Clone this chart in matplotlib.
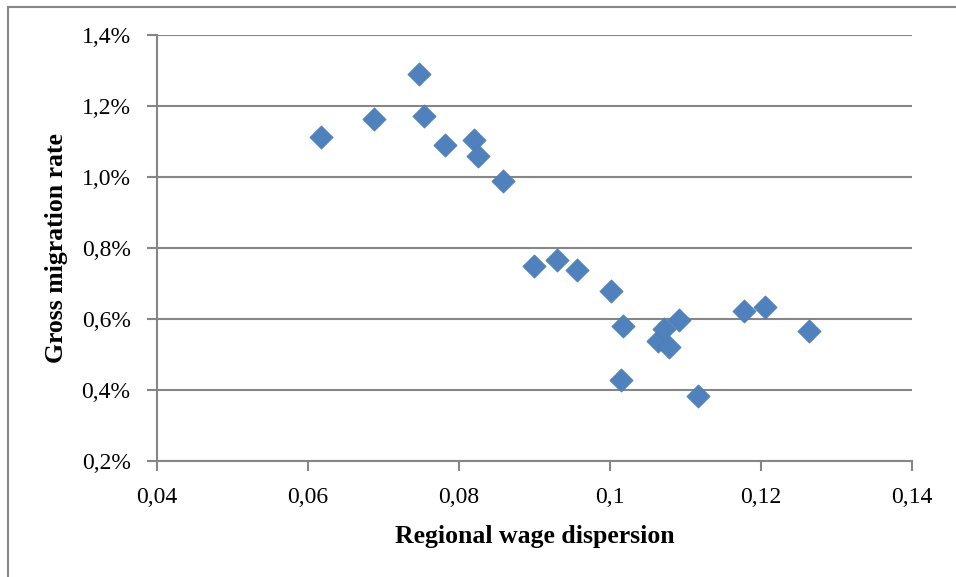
import matplotlib
matplotlib.use("Agg")
import matplotlib.pyplot as plt
from matplotlib.patches import Rectangle
from matplotlib.ticker import FuncFormatter

# Regional wage dispersion vs gross migration rate (%)
wage_disp = [0.0617, 0.0688, 0.0747, 0.0754, 0.0782, 0.0820, 0.0825, 0.0858,
             0.0899, 0.0930, 0.0956, 0.1001, 0.1017, 0.1014, 0.1064, 0.1071,
             0.1078, 0.1092, 0.1117, 0.1178, 0.1205, 0.1264]
migration = [1.114, 1.164, 1.291, 1.173, 1.089, 1.103, 1.058, 0.988,
             0.750, 0.766, 0.738, 0.680, 0.581, 0.427, 0.537, 0.573,
             0.520, 0.598, 0.382, 0.623, 0.635, 0.565]

x_ticks = [0.04, 0.06, 0.08, 0.1, 0.12, 0.14]
y_ticks = [0.2, 0.4, 0.6, 0.8, 1.0, 1.2, 1.4]

plt.rcParams["font.family"] = ["Liberation Serif", "DejaVu Serif"]
grey = "#868686"

fig = plt.figure(figsize=(9.56, 5.77), dpi=100)
ax = fig.add_axes([157/956, 1 - 461/577, (912 - 157)/956, (461 - 35)/577])

# outer chart frame (only left/top visible in the crop)
fig.patches.append(Rectangle((8/956, -0.1), 1.2, 1 - 7/577 + 0.1,
                             transform=fig.transFigure, fill=False,
                             edgecolor=grey, linewidth=1.5))

ax.scatter(wage_disp, migration, marker="D", s=140, color="#4F81BD",
           edgecolor="#4A7EBB", linewidth=0.5, zorder=3)

ax.set_xlim(0.04, 0.14)
ax.set_ylim(0.2, 1.4)
ax.set_xticks(x_ticks)
ax.set_yticks(y_ticks)
ax.xaxis.set_major_formatter(FuncFormatter(lambda v, p: ("%g" % v).replace(".", ",")))
ax.yaxis.set_major_formatter(FuncFormatter(lambda v, p: ("%.1f%%" % v).replace(".", ",")))

ax.grid(axis="y", color=grey, linewidth=1.5)
ax.set_axisbelow(True)
for s in ["top", "right"]:
    ax.spines[s].set_visible(False)
for s in ["left", "bottom"]:
    ax.spines[s].set_color(grey)
    ax.spines[s].set_linewidth(1.5)
ax.tick_params(direction="out", length=7, width=1.5, color=grey,
               labelsize=17)
ax.tick_params(axis="x", pad=12)
ax.tick_params(axis="y", pad=12)

ax.set_xlabel("Regional wage dispersion", fontsize=18.5, fontweight="bold", labelpad=12)
ax.set_ylabel("Gross migration rate", fontsize=18.5, fontweight="bold", labelpad=10)

fig.savefig("out.png", dpi=100)
